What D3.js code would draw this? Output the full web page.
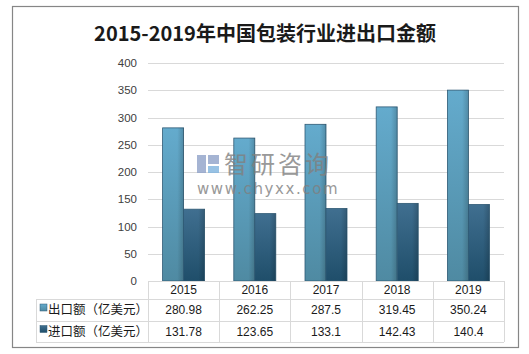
<!DOCTYPE html>
<html><head><meta charset="utf-8">
<script src="https://cdn.jsdelivr.net/npm/d3@7"></script>
<style>body{margin:0;background:#fff;}svg{display:block;font-family:"Liberation Sans","Noto Sans CJK SC",sans-serif;}</style>
</head><body>
<svg id="c" width="529" height="354"></svg>
<script>
const years = ["2015","2016","2017","2018","2019"];
const seriesNames = ["出口额（亿美元）","进口额（亿美元）"];
const exportVals = [280.98, 262.25, 287.5, 319.45, 350.24];
const importVals = [131.78, 123.65, 133.1, 142.43, 140.4];
const exportLabels = ["280.98","262.25","287.5","319.45","350.24"];
const importLabels = ["131.78","123.65","133.1","142.43","140.4"];
const yTicks = [0,50,100,150,200,250,300,350,400];
const title = "2015-2019年中国包装行业进出口金额";

const svg = d3.select("#c");
const defs = svg.append("defs");
function grad(id, c1, c2){
  const g = defs.append("linearGradient").attr("id",id).attr("x1",0).attr("y1",0).attr("x2",0).attr("y2",1);
  g.append("stop").attr("offset","0%").attr("stop-color",c1);
  g.append("stop").attr("offset","100%").attr("stop-color",c2);
}
grad("gExp","#64abcd","#4f8aa2");
grad("gImp","#406f90","#1f4e6a");
function hgrad(id){
  const g = defs.append("linearGradient").attr("id",id).attr("x1",0).attr("y1",0).attr("x2",1).attr("y2",0);
  g.append("stop").attr("offset","0%").attr("stop-color","#000").attr("stop-opacity",0);
  g.append("stop").attr("offset","70%").attr("stop-color","#000").attr("stop-opacity",0);
  g.append("stop").attr("offset","100%").attr("stop-color","#000").attr("stop-opacity",0.18);
}
hgrad("gShade");

// frame
svg.append("rect").attr("x",12.5).attr("y",6.5).attr("width",506).attr("height",341)
  .attr("fill","#fff").attr("stroke","#868686").attr("stroke-width",1.2);

svg.append("text").attr("x",265).attr("y",41).attr("text-anchor","middle")
  .attr("font-size",20).attr("font-weight","bold").attr("fill","#1a1a1a")
  .attr("font-family","'Noto Sans CJK SC',sans-serif").text(title);

const plotL = 148, plotR = 504, plotTop = 63, plotBottom = 281;
const x = d3.scaleBand().domain(years).range([plotL, plotR]);
const y = d3.scaleLinear().domain([0,400]).range([plotBottom, plotTop]);

// gridlines
svg.append("g").selectAll("line").data(yTicks.slice(1)).join("line")
  .attr("x1",plotL).attr("x2",plotR).attr("y1",d=>Math.round(y(d))+0.5).attr("y2",d=>Math.round(y(d))+0.5)
  .attr("stroke","#d9d9d9").attr("stroke-width",1);

// y axis labels
const yAxis = d3.axisLeft(y).tickValues(yTicks).tickSize(0).tickPadding(11);
const ya = svg.append("g").attr("transform",`translate(${plotL},0)`).call(yAxis);
ya.select(".domain").remove();
ya.selectAll("text").attr("font-size",11.5).attr("fill","#404040").attr("font-family","'Liberation Sans',sans-serif");

// bars
const bw = 21;
const bars = svg.append("g");
function drawBars(vals, fill, off){
  bars.selectAll(null).data(vals).join("rect")
    .attr("x",(d,i)=>x(years[i]) + x.bandwidth()/2 + off)
    .attr("y",d=>y(d)).attr("width",bw).attr("height",d=>plotBottom-y(d))
    .attr("fill",fill).attr("stroke","#2f5a75").attr("stroke-width",0.8);
  bars.selectAll(null).data(vals).join("rect")
    .attr("x",(d,i)=>x(years[i]) + x.bandwidth()/2 + off)
    .attr("y",d=>y(d)).attr("width",bw).attr("height",d=>plotBottom-y(d))
    .attr("fill","url(#gShade)");
}
drawBars(exportVals,"url(#gExp)",-bw);
drawBars(importVals,"url(#gImp)",0);

// watermark (drawn over bars)
const wm = svg.append("g").attr("opacity",0.8);
wm.append("rect").attr("x",197).attr("y",155).attr("width",9).attr("height",18).attr("fill","#8fa2c9");
wm.append("rect").attr("x",208).attr("y",155).attr("width",11).attr("height",9).attr("fill","#8fa2c9");
wm.append("rect").attr("x",208).attr("y",166).attr("width",11).attr("height",7).attr("fill","#7fb3de");
wm.append("text").attr("x",224).attr("y",173).attr("font-size",24).attr("fill","#808080")
  .attr("font-family","'Noto Sans CJK SC',sans-serif").attr("letter-spacing",3).text("智研咨询");
wm.append("text").attr("x",197).attr("y",194).attr("font-size",15).attr("fill","#808080")
  .attr("font-family","'DejaVu Sans',sans-serif").attr("letter-spacing",1.6).text("www.chyxx.com");

// table
const tL = 36, rowY = [281, 299, 321, 342];
const tbl = svg.append("g").attr("stroke","#d9d9d9").attr("stroke-width",1);
tbl.append("line").attr("x1",plotL).attr("x2",plotR).attr("y1",rowY[0]+0.5).attr("y2",rowY[0]+0.5);
[1,2,3].forEach(k=>tbl.append("line").attr("x1",tL).attr("x2",plotR).attr("y1",rowY[k]+0.5).attr("y2",rowY[k]+0.5));
tbl.append("line").attr("x1",tL+0.5).attr("x2",tL+0.5).attr("y1",rowY[1]).attr("y2",rowY[3]);
years.forEach(yr=>{
  const xx = Math.round(x(yr))+0.5;
  tbl.append("line").attr("x1",xx).attr("x2",xx).attr("y1",rowY[0]).attr("y2",rowY[3]);
});
tbl.append("line").attr("x1",plotR+0.5).attr("x2",plotR+0.5).attr("y1",rowY[0]).attr("y2",rowY[3]);

const tf = "'Liberation Sans',sans-serif";
svg.append("g").selectAll("text").data(years).join("text")
  .attr("x",d=>x(d)+x.bandwidth()/2).attr("y",(rowY[0]+rowY[1])/2+4).attr("text-anchor","middle")
  .attr("font-size",12).attr("fill","#1a1a1a").attr("font-family",tf).text(d=>d);
const rowsData = [exportLabels, importLabels];
rowsData.forEach((labels,k)=>{
  const cy = (rowY[k+1]+rowY[k+2])/2+4;
  svg.append("g").selectAll("text").data(labels).join("text")
    .attr("x",(d,i)=>x(years[i])+x.bandwidth()/2).attr("y",cy).attr("text-anchor","middle")
    .attr("font-size",12).attr("fill","#1a1a1a").attr("font-family",tf).text(d=>d);
  svg.append("rect").attr("x",40).attr("y",cy-10).attr("width",7).attr("height",7)
    .attr("fill",k===0?"url(#gExp)":"url(#gImp)").attr("stroke","#2f5a75").attr("stroke-width",0.5);
  svg.append("text").attr("x",48).attr("y",cy).attr("font-size",12.5).attr("fill","#1a1a1a")
    .attr("font-family","'Noto Sans CJK SC',sans-serif").text(seriesNames[k]);
});
</script>
</body></html>
